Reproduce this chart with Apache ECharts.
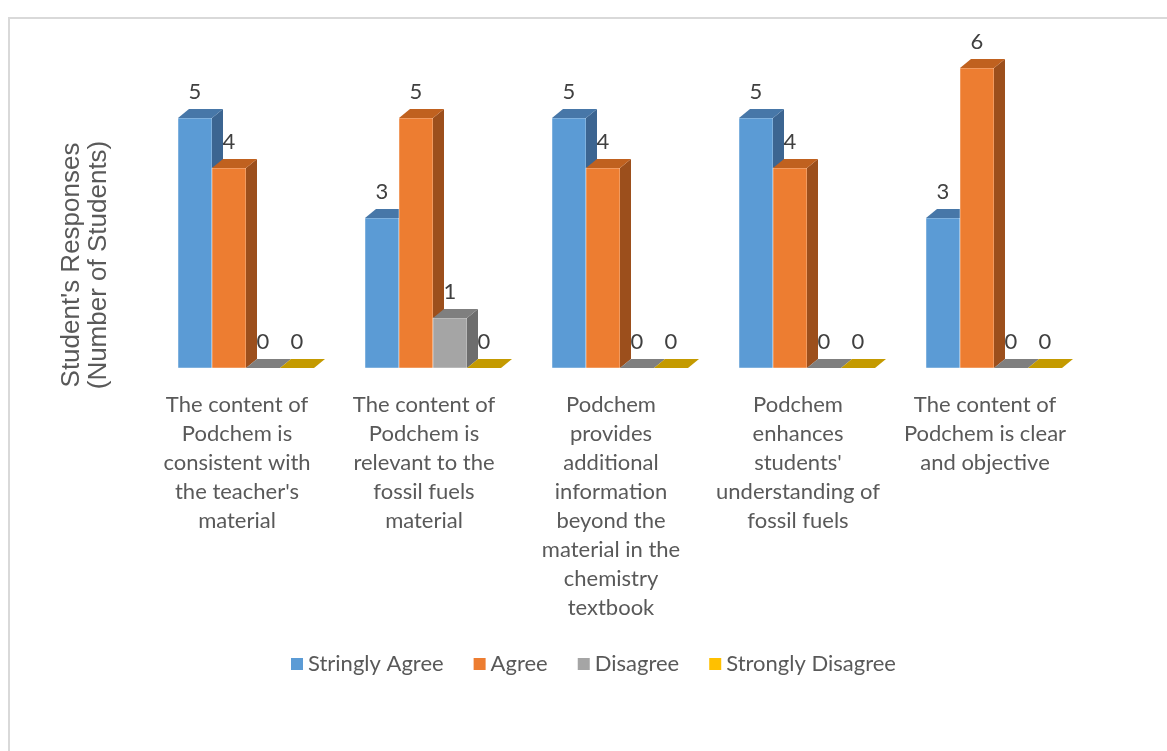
<!DOCTYPE html>
<html>
<head>
<meta charset="utf-8">
<script src="https://cdn.jsdelivr.net/npm/echarts@6/dist/echarts.min.js"></script>
<style>
  html, body { margin: 0; padding: 0; background: #fff; }
  #chart { width: 1167px; height: 751px; }
</style>
</head>
<body>
<div id="chart"></div>
<script>
// Data
const categories = [
  "The content of\nPodchem is\nconsistent with\nthe teacher's\nmaterial",
  "The content of\nPodchem is\nrelevant to the\nfossil fuels\nmaterial",
  "Podchem\nprovides\nadditional\ninformation\nbeyond the\nmaterial in the\nchemistry\ntextbook",
  "Podchem\nenhances\nstudents'\nunderstanding of\nfossil fuels",
  "The content of\nPodchem is clear\nand objective"
];
const seriesNames = ['Stringly Agree', 'Agree', 'Disagree', 'Strongly Disagree'];
const stronglyAgree = [5, 3, 5, 5, 3];
const agree = [4, 5, 4, 4, 6];
const disagree = [0, 1, 0, 0, 0];
const stronglyDisagree = [0, 0, 0, 0, 0];

// face colours: front, top, side
const faces = [
  { front: '#5b9bd5', top: '#4777a8', side: '#3c6591' },
  { front: '#ed7d31', top: '#c0611f', side: '#9c4f1c' },
  { front: '#a5a5a5', top: '#7f7f7f', side: '#6d6d6d' },
  { front: '#ffc000', top: '#c49a00', side: '#a07d00' }
];

const chart = echarts.init(document.getElementById('chart'));

// 3D-looking column drawn through the axes
function makeRender(s) {
  return function (params, api) {
    const i = api.value(0);
    const v = api.value(1);
    const base = api.coord([i, 0]);
    const topY = api.coord([i, v])[1];
    const band = api.size([1, 0])[0];
    const bw = band * 34 / 187;
    const shift = band * 9 / 187;
    const dx = 11, dy = -9;
    const x = base[0] + shift - 2 * bw + s * bw;
    const y0 = base[1];
    const f = faces[s];
    const children = [];
    if (y0 - topY > 0.5) {
      children.push({
        type: 'rect',
        shape: { x: x, y: topY, width: bw, height: y0 - topY },
        style: { fill: f.front, stroke: 'rgba(255,255,255,0.45)', lineWidth: 1 }
      });
      children.push({
        type: 'polygon',
        shape: { points: [[x + bw, topY], [x + bw + dx, topY + dy], [x + bw + dx, y0 + dy], [x + bw, y0]] },
        style: { fill: f.side }
      });
    }
    children.push({
      type: 'polygon',
      shape: { points: [[x, topY], [x + bw, topY], [x + bw + dx, topY + dy], [x + dx, topY + dy]] },
      style: { fill: f.top }
    });
    children.push({
      type: 'text',
      z2: 100,
      style: {
        text: String(v),
        x: x + bw / 2,
        y: topY - 26,
        align: 'center',
        verticalAlign: 'middle',
        font: '22px Lato',
        fill: '#404040'
      }
    });
    return { type: 'group', children: children };
  };
}

const allValues = [stronglyAgree, agree, disagree, stronglyDisagree];

const option = {
  animation: false,
  backgroundColor: '#fff',
  graphic: [
    {
      type: 'rect',
      shape: { x: 9, y: 18, width: 1200, height: 800 },
      style: { fill: 'none', stroke: '#d9d9d9', lineWidth: 2 },
      silent: true
    },
    {
      type: 'text',
      x: 85,
      y: 265,
      rotation: Math.PI / 2,
      style: {
        text: "Student's Responses\n(Number of Students)",
        font: '26px "Liberation Sans"',
        fill: '#595959',
        align: 'center',
        verticalAlign: 'middle',
        lineHeight: 27
      }
    }
  ],
  legend: {
    data: seriesNames,
    left: 286,
    top: 648,
    icon: 'rect',
    itemWidth: 12,
    itemHeight: 12,
    itemGap: 30,
    textStyle: { fontFamily: 'Lato', fontSize: 22, color: '#595959' }
  },
  grid: { left: 143.5, right: 88.5, top: 68, bottom: 383 },
  xAxis: {
    type: 'category',
    data: categories,
    axisLine: { show: false },
    axisTick: { show: false },
    axisLabel: {
      interval: 0,
      margin: 22,
      fontFamily: 'Lato',
      fontSize: 22,
      lineHeight: 29,
      color: '#595959',
      align: 'center'
    }
  },
  yAxis: {
    type: 'value',
    min: 0,
    max: 6,
    show: false
  },
  series: seriesNames.map((name, s) => ({
    name: name,
    type: 'custom',
    renderItem: makeRender(s),
    itemStyle: { color: faces[s].front },
    encode: { x: 0, y: 1 },
    data: allValues[s].map((v, i) => [i, v])
  }))
};

chart.setOption(option);
</script>
</body>
</html>
